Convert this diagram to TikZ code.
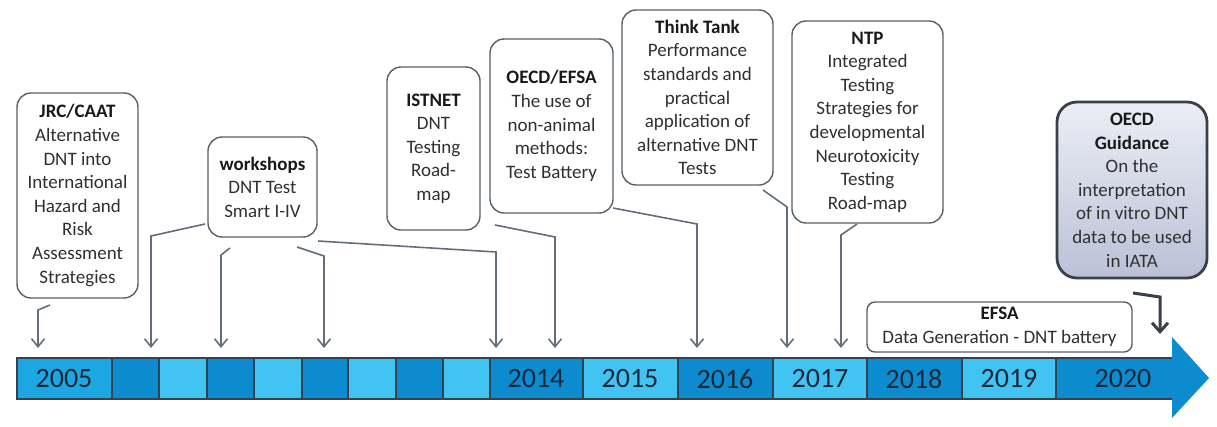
\documentclass[tikz,border=0pt]{standalone}
\usepackage{fontspec}
\setmainfont{Carlito}
\usetikzlibrary{arrows.meta}

\definecolor{cellmid}{RGB}{28,166,226}
\definecolor{celldark}{RGB}{12,140,206}
\definecolor{celllight}{RGB}{66,196,242}
\definecolor{barline}{RGB}{52,66,80}
\definecolor{boxline}{RGB}{88,96,104}
\definecolor{linkgray}{RGB}{100,110,122}
\definecolor{txtgray}{RGB}{48,48,48}
\definecolor{yeartxt}{RGB}{28,40,58}
\definecolor{guidetop}{RGB}{236,238,245}
\definecolor{guidebot}{RGB}{186,193,215}
\definecolor{guideline}{RGB}{58,64,72}

\tikzset{
  eventbox/.style={draw=boxline, line width=1.4pt, rounded corners=14pt, fill=white,
    align=center, inner sep=2pt, text=txtgray,
    font=\fontsize{19}{23.6}\selectfont},
  guidebox/.style={eventbox, draw=guideline, line width=2.8pt, rounded corners=20pt,
    top color=guidetop, bottom color=guidebot},
  flatbox/.style={eventbox, rounded corners=8pt},
  link/.style={draw=linkgray, line width=1.6pt,
    -{Straight Barb[length=8pt,width=13pt,line width=1.6pt]}},
  biglink/.style={draw=guideline, line width=3pt,
    -{Straight Barb[length=9pt,width=16pt,line width=3pt]}},
  yearlabel/.style={font=\fontsize{28}{30}\selectfont, text=yeartxt, inner sep=0pt}
}

\begin{document}
\begin{tikzpicture}[x=1pt,y=-1pt]
\useasboundingbox (0,0) rectangle (1217,426);

% ---------- timeline bar ----------
\fill[celldark] (1172,358) -- (1172,337) -- (1209,378) -- (1172,418) -- (1172,399) -- cycle;
\foreach \a/\b/\c in {17/112/cellmid,112/159/celldark,159/207/celllight,207/254/celldark,
  254/302/celllight,302/348/celldark,348/396/celllight,396/443/celldark,443/490/celllight,
  490/583/celldark,583/678/celllight,678/773/celldark,773/867/celllight,867/962/celldark,
  962/1056/celllight,1056/1173/celldark}
  \fill[\c] (\a,358) rectangle (\b,399);
\draw[barline, line width=2.4pt] (1172,358) -- (17,358) -- (17,399) -- (1172,399);
\foreach \x in {112,159,207,254,302,348,396,443,490,583,678,773,867,962,1056}
  \draw[barline, line width=2.4pt] (\x,358) -- (\x,399);

\node[yearlabel] (y2005) at (64,379) {2005};
\node[yearlabel] (y2014) at (536,379) {2014};
\node[yearlabel] (y2015) at (630,379) {2015};
\node[yearlabel] (y2016) at (725,379) {2016};
\node[yearlabel] (y2017) at (820,379) {2017};
\node[yearlabel] (y2018) at (914,379) {2018};
\node[yearlabel] (y2019) at (1009,379) {2019};
\node[yearlabel] (y2020) at (1123,379) {2020};

% ---------- event boxes ----------
\node[eventbox, minimum width=121pt, minimum height=205pt] (jrc) at (77.5,195.5)
  {{\bfseries\color{black!90}JRC/CAAT}\\Alternative\\DNT into\\International\\Hazard and\\Risk\\Assessment\\Strategies};
\node[eventbox, minimum width=109pt, minimum height=100pt] (ws) at (262.5,187)
  {{\bfseries\color{black!90}workshops}\\DNT Test\\Smart I-IV};
\node[eventbox, minimum width=93pt, minimum height=163pt] (ist) at (433.5,148.5)
  {{\bfseries\color{black!90}ISTNET}\\DNT\\Testing\\Road-\\map};
\node[eventbox, minimum width=123pt, minimum height=174pt] (oe) at (551.5,126)
  {{\bfseries\color{black!90}OECD/EFSA}\\The use of\\non-animal\\methods:\\Test Battery};
\node[eventbox, minimum width=151pt, minimum height=175pt] (tt) at (697.5,97.5)
  {{\bfseries\color{black!90}Think Tank}\\Performance\\standards and\\practical\\application of\\alternative DNT\\Tests};
\node[eventbox, minimum width=151pt, minimum height=202pt] (ntp) at (867.5,122)
  {{\bfseries\color{black!90}NTP}\\Integrated\\Testing\\Strategies for\\developmental\\Neurotoxicity\\Testing\\Road-map};
\node[guidebox, minimum width=150pt, minimum height=176pt] (og) at (1132,190)
  {{\bfseries\color{black!90}OECD}\\{\bfseries\color{black!90}Guidance}\\On the\\interpretation\\of in vitro DNT\\data to be used\\in IATA};
\node[flatbox, minimum width=265pt, minimum height=50pt] (efsa) at (999.5,327)
  {{\bfseries\color{black!90}EFSA}\\Data Generation - DNT battery};

% ---------- connector points ----------
\coordinate (jrcA) at (50,305);   \coordinate (jrcB) at (38,310);   \coordinate (jrcT) at (38,348);
\coordinate (w1A) at (205,224);   \coordinate (w1B) at (151,236);   \coordinate (w1T) at (151,348);
\coordinate (w2A) at (230,248);   \coordinate (w2B) at (221,255);   \coordinate (w2T) at (221,348);
\coordinate (w3A) at (297,247);   \coordinate (w3B) at (324,256);   \coordinate (w3T) at (324,348);
\coordinate (w4A) at (318,241);   \coordinate (w4B) at (496,252);   \coordinate (w4T) at (496,348);
\coordinate (istA) at (495,225);  \coordinate (istB) at (555,237);  \coordinate (istT) at (555,348);
\coordinate (oeA) at (613,208);   \coordinate (oeB) at (697,224);   \coordinate (oeT) at (697,348);
\coordinate (ttA) at (763,190);   \coordinate (ttB) at (787,207);   \coordinate (ttT) at (787,348);
\coordinate (ntpA) at (857,224);  \coordinate (ntpB) at (841,235);  \coordinate (ntpT) at (841,348);
\coordinate (ogA) at (1133,293);  \coordinate (ogB) at (1160,297);  \coordinate (ogT) at (1160,334);

% ---------- connectors ----------
\draw[link] (jrcA) -- (jrcB) -- (jrcT);
\draw[link] (w1A) -- (w1B) -- (w1T);
\draw[link] (w2A) -- (w2B) -- (w2T);
\draw[link] (w3A) -- (w3B) -- (w3T);
\draw[link] (w4A) -- (w4B) -- (w4T);
\draw[link] (istA) -- (istB) -- (istT);
\draw[link] (oeA) -- (oeB) -- (oeT);
\draw[link] (ttA) -- (ttB) -- (ttT);
\draw[link] (ntpA) -- (ntpB) -- (ntpT);
\draw[biglink] (ogA) -- (ogB) -- (ogT);
\end{tikzpicture}
\end{document}
